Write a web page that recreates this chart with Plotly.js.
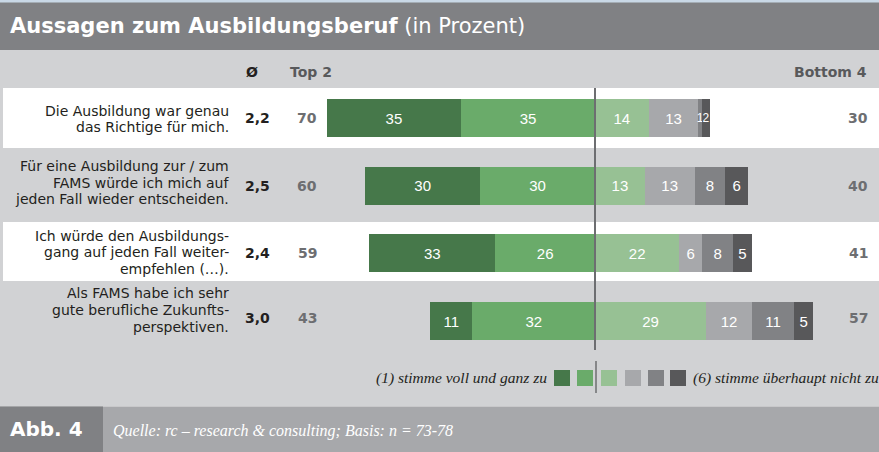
<!DOCTYPE html>
<html>
<head>
<meta charset="utf-8">
<script src="https://cdn.plot.ly/plotly-3.0.1.min.js"></script>
<style>
html,body{margin:0;padding:0;background:#fff;}
#chart{width:879px;height:452px;}
</style>
</head>
<body>
<div id="chart"></div>
<script>
// ---- data ----
var statements = [
  ["Die Ausbildung war genau", "das Richtige für mich."],
  ["Für eine Ausbildung zur / zum", "FAMS würde ich mich auf", "jeden Fall wieder entscheiden."],
  ["Ich würde den Ausbildungs-", "gang auf jeden Fall weiter-", "empfehlen (…)."],
  ["Als FAMS habe ich sehr", "gute berufliche Zukunfts-", "perspektiven."]
];
var meanValues = ["2,2", "2,5", "2,4", "3,0"];
var top2 = [70, 60, 59, 43];
var bottom4 = [30, 40, 41, 57];
var s1 = [35, 30, 33, 11];
var s2 = [35, 30, 26, 32];
var s3 = [14, 13, 22, 29];
var s4 = [13, 13, 6, 12];
var s5 = [1, 8, 8, 11];
var s6 = [2, 6, 5, 5];
var legendLeft = "(1) stimme voll und ganz zu";
var legendRight = "(6) stimme überhaupt nicht zu";
var titleBold = "Aussagen zum Ausbildungsberuf";
var titleRest = "(in Prozent)";
var figLabel = "Abb. 4";
var source = "Quelle: rc – research &amp; consulting; Basis: n = 73-78";

// ---- styling ----
var colors = ["#46784a", "#6aab6a", "#97c194", "#a7a8ab", "#818285", "#58585a"];
var W = 879, H = 452;
var pxPerPct = 3.83, zeroPx = 595;
var rowCenter0 = 118, rowStep = 67.67;
var labelShift = [1, -3, -1, -11];   // vertical offset of label block vs bar centre (px)
var valueShift = [0, 0, 0, -3];
function px(x){ return x / W; }
function py(y){ return 1 - y / H; }
var cats = [0, 1, 2, 3];

function neg(a){ return a.map(function(v){ return -v; }); }
function trace(vals, shown, color){
  return {
    type: "bar", orientation: "h", y: cats, x: vals,
    text: shown.map(String), texttemplate: "%{text}",
    textposition: "inside", insidetextanchor: "middle",
    constraintext: "none", cliponaxis: false,
    textfont: {family: "Liberation Sans, Arial, sans-serif",
               size: shown.map(function(v){ return v <= 2 ? 12 : 15; }), color: "#ffffff"},
    marker: {color: color, line: {width: 0}},
    width: 0.5615, hoverinfo: "skip", showlegend: false
  };
}
var data = [
  trace(neg(s2), s2, colors[1]),
  trace(neg(s1), s1, colors[0]),
  trace(s3, s3, colors[2]),
  trace(s4, s4, colors[3]),
  trace(s5, s5, colors[4]),
  trace(s6, s6, colors[5])
];

var shapes = [
  {type:"rect", xref:"paper", yref:"paper", x0:0, x1:1, y0:py(3), y1:1, fillcolor:"#c9d8e6", line:{width:0}, layer:"below"},
  {type:"rect", xref:"paper", yref:"paper", x0:0, x1:1, y0:py(50), y1:py(2.5), fillcolor:"#808184", line:{width:0}, layer:"below"},
  {type:"rect", xref:"paper", yref:"paper", x0:0, x1:1, y0:py(406.5), y1:py(50), fillcolor:"#d1d2d4", line:{width:0}, layer:"below"},
  {type:"rect", xref:"paper", yref:"paper", x0:px(3), x1:1, y0:py(148), y1:py(88), fillcolor:"#ffffff", line:{width:0}, layer:"below"},
  {type:"rect", xref:"paper", yref:"paper", x0:px(3), x1:1, y0:py(281), y1:py(222), fillcolor:"#ffffff", line:{width:0}, layer:"below"},
  {type:"rect", xref:"paper", yref:"paper", x0:0, x1:1, y0:0, y1:py(406.5), fillcolor:"#a7a8ab", line:{width:0}, layer:"below"},
  {type:"rect", xref:"paper", yref:"paper", x0:0, x1:px(103), y0:0, y1:py(406.5), fillcolor:"#808184", line:{width:0}, layer:"below"},
  {type:"line", xref:"x", yref:"paper", x0:0, x1:0, y0:py(350), y1:py(88), line:{color:"#6d6e71", width:2}, layer:"above"},
  {type:"line", xref:"paper", yref:"paper", x0:px(596), x1:px(596), y0:py(393), y1:py(361), line:{color:"#6d6e71", width:1.5}}
];
var legX = [554, 577, 601, 625, 648, 670];
legX.forEach(function(x, i){
  shapes.push({type:"rect", xref:"paper", yref:"paper", x0:px(x), x1:px(x+16), y0:py(386), y1:py(370),
    fillcolor: colors[i], line:{width:0}});
});

var sans = "DejaVu Sans, Verdana, sans-serif";
var serif = "Liberation Serif, Times New Roman, serif";
var annotations = [
  {xref:"paper", yref:"paper", x:px(8), y:py(26), xanchor:"left", yanchor:"middle", showarrow:false,
   text:"<b>"+titleBold+"</b> "+titleRest, font:{family:sans, size:21, color:"#ffffff"}},
  {xref:"paper", yref:"paper", x:px(252), y:py(72), xanchor:"center", yanchor:"middle", showarrow:false,
   text:"<b>Ø</b>", font:{family:sans, size:14, color:"#231f20"}},
  {xref:"paper", yref:"paper", x:px(288), y:py(72), xanchor:"left", yanchor:"middle", showarrow:false,
   text:"<b>Top 2</b>", font:{family:sans, size:14, color:"#58595b"}},
  {xref:"paper", yref:"paper", x:px(869), y:py(72), xanchor:"right", yanchor:"middle", showarrow:false,
   text:"<b>Bottom 4</b>", font:{family:sans, size:14, color:"#58595b"}},
  {xref:"paper", yref:"paper", x:px(549), y:py(378), xanchor:"right", yanchor:"middle", showarrow:false,
   text:"<i>"+legendLeft+"</i>", font:{family:serif, size:15.5, color:"#231f20"}},
  {xref:"paper", yref:"paper", x:px(691), y:py(378), xanchor:"left", yanchor:"middle", showarrow:false,
   text:"<i>"+legendRight+"</i>", font:{family:serif, size:15.5, color:"#231f20"}},
  {xref:"paper", yref:"paper", x:px(8), y:py(429), xanchor:"left", yanchor:"middle", showarrow:false,
   text:"<b>"+figLabel+"</b>", font:{family:sans, size:20, color:"#ffffff"}},
  {xref:"paper", yref:"paper", x:px(111), y:py(431), xanchor:"left", yanchor:"middle", showarrow:false,
   text:"<i>"+source+"</i>", font:{family:serif, size:16, color:"#ffffff"}}
];
var lineGap = 16.7;
cats.forEach(function(c, i){
  var lines = statements[i], n = lines.length;
  lines.forEach(function(t, k){
    annotations.push({xref:"paper", yref:"y", x:px(231), y:c, xanchor:"right", yanchor:"middle", align:"right",
      showarrow:false, text:t, yshift: -(labelShift[i] + (k - (n-1)/2) * lineGap),
      font:{family:sans, size:14, color:"#231f20"}});
  });
  annotations.push({xref:"paper", yref:"y", x:px(257), y:c, xanchor:"center", yanchor:"middle",
    showarrow:false, text:"<b>"+meanValues[i]+"</b>", yshift:-valueShift[i],
    font:{family:sans, size:14, color:"#231f20"}});
  annotations.push({xref:"paper", yref:"y", x:px(307), y:c, xanchor:"center", yanchor:"middle",
    showarrow:false, text:"<b>"+top2[i]+"</b>", yshift:-valueShift[i],
    font:{family:sans, size:14, color:"#6d6e71"}});
  annotations.push({xref:"paper", yref:"y", x:px(858), y:c, xanchor:"center", yanchor:"middle",
    showarrow:false, text:"<b>"+bottom4[i]+"</b>", yshift:-valueShift[i],
    font:{family:sans, size:14, color:"#6d6e71"}});
});

var layout = {
  width: W, height: H,
  margin: {l:0, r:0, t:0, b:0, pad:0},
  paper_bgcolor: "#ffffff", plot_bgcolor: "rgba(0,0,0,0)",
  barmode: "relative", bargap: 0,
  showlegend: false,
  xaxis: {range:[-zeroPx/pxPerPct, (W-zeroPx)/pxPerPct], visible:false, fixedrange:true},
  yaxis: {type:"linear", range:[(H-rowCenter0)/rowStep, -rowCenter0/rowStep], visible:false, fixedrange:true},
  shapes: shapes,
  annotations: annotations
};
Plotly.newPlot("chart", data, layout, {displayModeBar:false, staticPlot:true});
</script>
</body>
</html>
